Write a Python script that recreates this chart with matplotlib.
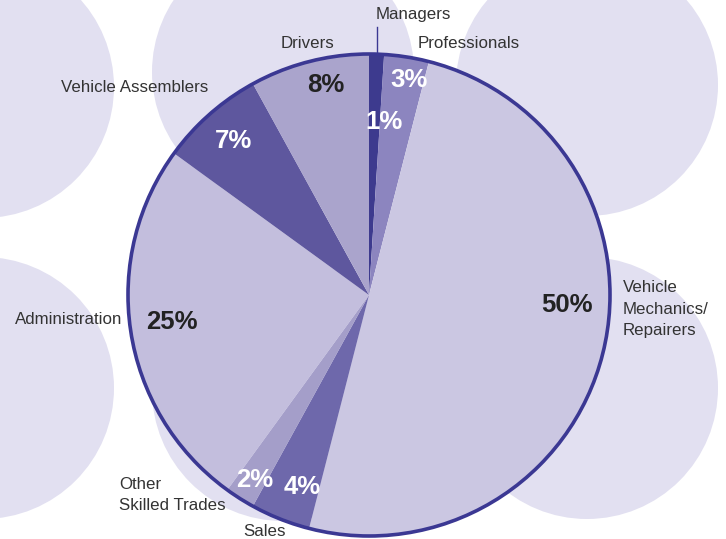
import numpy as np
import matplotlib
matplotlib.use("Agg")
import matplotlib.pyplot as plt
from matplotlib.patches import Circle

plt.rcParams['font.family'] = ['Liberation Sans', 'DejaVu Sans']

# data, clockwise from 12 o'clock
categories = ["Managers", "Professionals", "Vehicle\nMechanics/\nRepairers", "Sales",
              "Other\nSkilled Trades", "Administration", "Vehicle Assemblers", "Drivers"]
shares = [1, 3, 50, 4, 2, 25, 7, 8]
slice_colors = ["#3d3a8e", "#8c85bf", "#cbc7e2", "#6e68ab", "#a49ec9", "#c3bedd", "#5e579e", "#aaa4cc"]
pct_colors = ["white", "white", "#222222", "white", "white", "#222222", "white", "#222222"]

W, H = 726, 539
fig = plt.figure(figsize=(W / 100, H / 100), dpi=100)
ax = fig.add_axes([0, 0, 1, 1])

def py(y):
    # pixel row (from top) -> data y
    return H - y

# background bubbles
bg = "#e2e0f1"
for cx, cy in [(-17, 87), (283, 72), (587, 85), (-17, 388), (283, 390), (587, 388)]:
    ax.add_patch(Circle((cx, py(cy)), 131, facecolor=bg, edgecolor='none', zorder=0))

# pie
pcx, pcy, R = 369, 295, 241
wedges, _ = ax.pie(shares, colors=slice_colors, startangle=90, counterclock=False,
                   center=(pcx, py(pcy)), radius=R, frame=True,
                   wedgeprops=dict(linewidth=0))
ax.set_xlim(0, W)
ax.set_ylim(0, H)
ax.set_aspect('equal')
ax.axis('off')
ax.add_patch(Circle((pcx, py(pcy)), R, facecolor='none', edgecolor="#3b3893", linewidth=2.6, zorder=5))

# percentage labels (pixel positions)
pct_pos = [(384, 122), (409, 80), (567, 305), (302, 487), (255, 480), (172, 322), (234, 141), (326, 85)]
for v, (x, y), c in zip(shares, pct_pos, pct_colors):
    ax.text(x, py(y), f"{v}%", ha='center', va='center', fontsize=18.5,
            fontweight='bold', color=c, zorder=6)

# category labels
lab_style = dict(fontsize=12.2, color="#333333", zorder=6, linespacing=1.55)
ax.text(413, py(15), categories[0], ha='center', va='center', **lab_style)
ax.plot([377, 377], [py(27), py(54)], color="#3b3893", linewidth=1, zorder=6)
ax.text(418, py(44), categories[1], ha='left', va='center', **lab_style)
ax.text(623, py(309), categories[2], ha='left', va='center', **lab_style)
ax.text(265, py(532), categories[3], ha='center', va='center', **lab_style)
ax.text(119, py(495), categories[4], ha='left', va='center', **lab_style)
ax.text(122, py(320), categories[5], ha='right', va='center', **lab_style)
ax.text(208, py(88), categories[6], ha='right', va='center', **lab_style)
ax.text(307, py(43), categories[7], ha='center', va='center', **lab_style)

fig.savefig("out.png", dpi=100)
